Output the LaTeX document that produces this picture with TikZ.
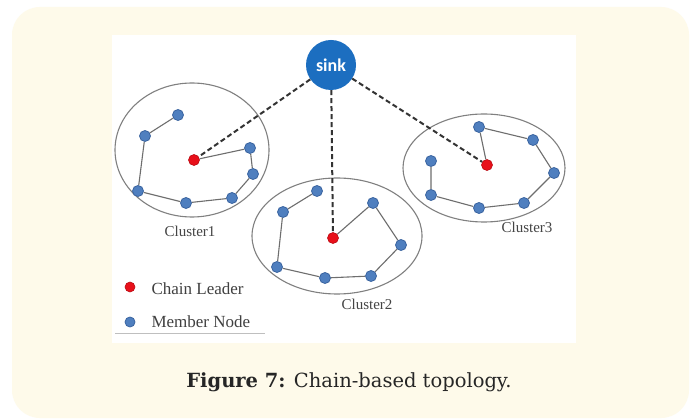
\documentclass[tikz,border=0pt]{standalone}
\usepackage{fontspec}
\setmainfont{Liberation Serif}
\newfontfamily\capfont{DejaVu Serif}
\newfontfamily\sinkfont{Carlito}
\definecolor{cream}{HTML}{FEFAEA}
\definecolor{memberblue}{HTML}{4F7FBF}
\definecolor{memberedge}{HTML}{3A64A0}
\definecolor{leaderred}{HTML}{E8101A}
\definecolor{sinkblue}{HTML}{1C6EC0}
\definecolor{chaingray}{HTML}{6E6E6E}
\definecolor{labelgray}{HTML}{444444}
\tikzset{
  member/.style={circle, fill=memberblue, draw=memberedge, line width=0.8pt, minimum size=11pt, inner sep=0pt},
  leader/.style={circle, fill=leaderred, draw=leaderred!80!black, line width=0.6pt, minimum size=11pt, inner sep=0pt},
  cluster/.style={draw=gray, line width=1.1pt},
  chain/.style={draw=chaingray, line width=1.1pt},
  uplink/.style={draw=black!80, line width=2pt, dash pattern=on 5pt off 3pt},
  clabel/.style={text=labelgray, font=\fontsize{15}{17}\selectfont},
  legendtext/.style={text=black!75, font=\fontsize{17}{19}\selectfont, anchor=west},
}
\begin{document}
\begin{tikzpicture}[x=1pt, y=-1pt]
\useasboundingbox (0,0) rectangle (690,419);
% page and panel
\fill[white] (0,0) rectangle (690,419);
\fill[cream, rounded corners=28pt] (12,7) rectangle (689,418);
\fill[white] (112,35) rectangle (576,343);

% cluster outlines
\draw[cluster] (192,150) ellipse [x radius=77, y radius=67];
\draw[cluster] (337,236) ellipse [x radius=85, y radius=58];
\draw[cluster] (484,168) ellipse [x radius=81, y radius=54];

% sink
\node[circle, fill=sinkblue, minimum width=48pt, minimum height=50pt, inner sep=0pt,
      text=white, font=\sinkfont\bfseries\fontsize{18}{20}\selectfont] (sink) at (331,65) {sink};

% cluster 1
\node[member] (a1) at (178,115) {};
\node[member] (a2) at (145,136) {};
\node[member] (a3) at (138,191) {};
\node[member] (a4) at (186,203) {};
\node[member] (a5) at (232,198) {};
\node[member] (a6) at (253,174) {};
\node[member] (a7) at (250,148) {};
\node[leader] (l1) at (194,160) {};

% cluster 2
\node[member] (b1) at (317,191) {};
\node[member] (b2) at (283,212) {};
\node[member] (b3) at (277,267) {};
\node[member] (b4) at (325,278) {};
\node[member] (b5) at (371,276) {};
\node[member] (b6) at (401,245) {};
\node[member] (b7) at (373,203) {};
\node[leader] (l2) at (333,238) {};

% cluster 3
\node[member] (c1) at (431,161) {};
\node[member] (c2) at (431,195) {};
\node[member] (c3) at (479,208) {};
\node[member] (c4) at (524,203) {};
\node[member] (c5) at (554,173) {};
\node[member] (c6) at (533,140) {};
\node[member] (c7) at (479,127) {};
\node[leader] (l3) at (487,165) {};

% chains
\draw[chain] (a1) -- (a2) -- (a3) -- (a4) -- (a5) -- (a6) -- (a7) -- (l1);
\draw[chain] (b1) -- (b2) -- (b3) -- (b4) -- (b5) -- (b6) -- (b7) -- (l2);
\draw[chain] (c1) -- (c2) -- (c3) -- (c4) -- (c5) -- (c6) -- (c7) -- (l3);

% links from chain leaders to the sink
\draw[uplink] (sink) -- (l1);
\draw[uplink] (sink) -- (l2);
\draw[uplink] (sink) -- (l3);

% cluster names
\node[clabel] (n1) at (190,231) {Cluster1};
\node[clabel] (n2) at (367,304) {Cluster2};
\node[clabel] (n3) at (527,227) {Cluster3};

% legend
\node[leader, minimum size=10pt] (kl) at (130,287) {};
\node[legendtext] (tl) at (148,289) {Chain Leader};
\node[member, minimum size=10pt] (km) at (130,322) {};
\node[legendtext] (tm) at (148,322) {Member Node};
\draw[black!25, line width=0.6pt] (115,333) -- (265,333);

% caption
\node[font=\capfont\fontsize{19.5}{22}\selectfont, text=black!85] (cap) at (349,382)
  {\textbf{Figure 7:} Chain-based topology.};
\end{tikzpicture}
\end{document}
